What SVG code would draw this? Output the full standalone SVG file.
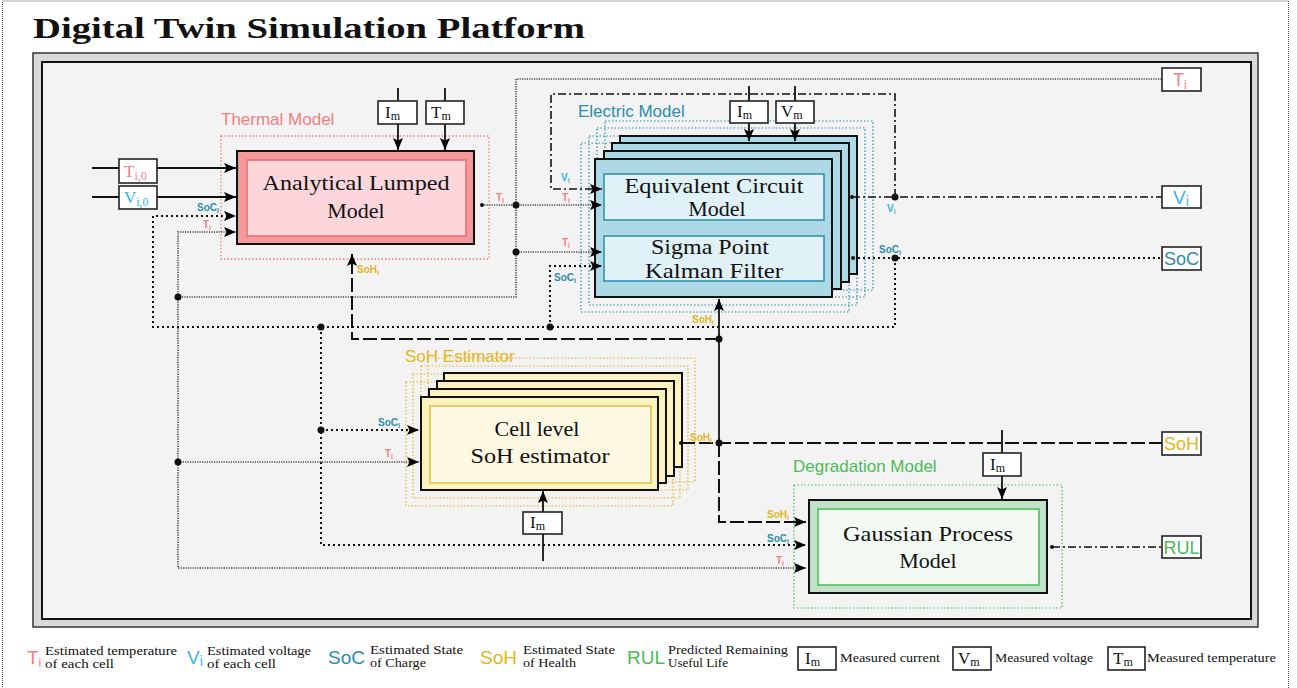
<svg xmlns="http://www.w3.org/2000/svg" width="1297" height="688" viewBox="0 0 1297 688">
<defs>
<marker id="ar" viewBox="0 0 12 10" refX="12" refY="5" markerWidth="12" markerHeight="10" orient="auto" markerUnits="userSpaceOnUse"><path d="M0,0 L12,5 L0,10 L2.5,5 z" fill="#000"/></marker>
<style>
.ser{font-family:"Liberation Serif","DejaVu Serif",serif;fill:#111}
.san{font-family:"Liberation Sans","DejaVu Sans",sans-serif}
.lb{font-family:"Liberation Sans","DejaVu Sans",sans-serif;font-weight:bold;font-size:10px}
.sub{font-size:7px}
.ct{fill:#f07f7f}.cv{fill:#3ab6e3}.cs{fill:#2b8dab}.ch{fill:#e3b51f}.cr{fill:#4bbb58}
.box{fill:#fff;stroke:#222;stroke-width:1.6}
.ti{fill:none;stroke:#444;stroke-width:1.6;stroke-dasharray:1.2 1.2}
.vi{fill:none;stroke:#111;stroke-width:1.6;stroke-dasharray:8 3 2 3}
.so{fill:none;stroke:#111;stroke-width:2;stroke-dasharray:2 3}
.sh{fill:none;stroke:#111;stroke-width:2;stroke-dasharray:14 4}
.sol{fill:none;stroke:#111;stroke-width:1.8}
.mod{font-family:"Liberation Sans","DejaVu Sans",sans-serif;font-size:17px}
.bt{font-family:"Liberation Serif","DejaVu Serif",serif;font-size:22px;fill:#111;text-anchor:middle}
.lg{font-family:"Liberation Serif","DejaVu Serif",serif;font-size:12px;fill:#111}
.big{font-family:"Liberation Sans","DejaVu Sans",sans-serif;font-size:19px}
</style>
</defs>
<rect x="2.5" y="1" width="1286" height="700" fill="#fff" stroke="#555" stroke-width="1" stroke-dasharray="1 1"/>
<text x="33" y="38" class="ser" font-size="30" font-weight="bold" textLength="552" lengthAdjust="spacingAndGlyphs">Digital Twin Simulation Platform</text>
<rect x="33" y="53" width="1225" height="574" fill="#d9d9d9" stroke="#333" stroke-width="1.5"/>
<rect x="42" y="62" width="1209" height="557" fill="#f3f3f3" stroke="#111" stroke-width="2"/>

<g id="thermal">
<rect x="221" y="136" width="268" height="123" fill="none" stroke="#f07f7f" stroke-width="1.3" stroke-dasharray="1.5 2"/>
<text x="221" y="125" class="mod ct">Thermal Model</text>
<rect x="237" y="151" width="237" height="93" fill="#f59a9c" stroke="#111" stroke-width="2"/>
<rect x="247" y="160" width="219" height="76" fill="#fcd6db" stroke="#f06b6b" stroke-width="1.5"/>
<text x="356" y="190" class="bt" textLength="187" lengthAdjust="spacingAndGlyphs">Analytical Lumped</text>
<text x="356" y="218" class="bt">Model</text>
</g>

<g id="electric">
<rect x="605" y="121" width="268" height="169" fill="none" stroke="#2b8dab" stroke-width="1.2" stroke-dasharray="1.5 2"/>
<rect x="597" y="128" width="268" height="169" fill="none" stroke="#2b8dab" stroke-width="1.2" stroke-dasharray="1.5 2"/>
<rect x="589" y="136" width="268" height="169" fill="none" stroke="#2b8dab" stroke-width="1.2" stroke-dasharray="1.5 2"/>
<rect x="581" y="143" width="268" height="169" fill="none" stroke="#2b8dab" stroke-width="1.2" stroke-dasharray="1.5 2"/>
<text x="578" y="117" class="mod cs">Electric Model</text>
<rect x="620" y="136" width="237" height="138" fill="#add8e6" stroke="#111" stroke-width="2"/>
<rect x="612" y="143" width="237" height="139" fill="#add8e6" stroke="#111" stroke-width="2"/>
<rect x="604" y="151" width="237" height="138" fill="#add8e6" stroke="#111" stroke-width="2"/>
<rect x="595" y="159" width="237" height="138" fill="#add8e6" stroke="#111" stroke-width="2"/>
<rect x="604" y="174" width="220" height="46" fill="#e0f2f7" stroke="#2b8dab" stroke-width="1.5"/>
<rect x="604" y="236" width="220" height="45" fill="#e0f2f7" stroke="#2b8dab" stroke-width="1.5"/>
<text x="714" y="193" class="bt" textLength="179" lengthAdjust="spacingAndGlyphs">Equivalent Circuit</text>
<text x="717" y="216" class="bt">Model</text>
<text x="710" y="254" class="bt" textLength="118" lengthAdjust="spacingAndGlyphs">Sigma Point</text>
<text x="714" y="278" class="bt" textLength="138" lengthAdjust="spacingAndGlyphs">Kalman Filter</text>
</g>

<g id="soh-estimator">
<rect x="428" y="358" width="267" height="124" fill="none" stroke="#e3b51f" stroke-width="1.2" stroke-dasharray="1.5 2"/>
<rect x="421" y="366" width="267" height="124" fill="none" stroke="#e3b51f" stroke-width="1.2" stroke-dasharray="1.5 2"/>
<rect x="413" y="374" width="267" height="124" fill="none" stroke="#e3b51f" stroke-width="1.2" stroke-dasharray="1.5 2"/>
<rect x="406" y="382" width="267" height="124" fill="none" stroke="#e3b51f" stroke-width="1.2" stroke-dasharray="1.5 2"/>
<text x="405" y="362" class="mod ch">SoH Estimator</text>
<rect x="444" y="373" width="238" height="94" fill="#fdf3c0" stroke="#111" stroke-width="2"/>
<rect x="437" y="381" width="237" height="95" fill="#fdf3c0" stroke="#111" stroke-width="2"/>
<rect x="429" y="389" width="237" height="94" fill="#fdf3c0" stroke="#111" stroke-width="2"/>
<rect x="421" y="397" width="237" height="93" fill="#fdf3c0" stroke="#111" stroke-width="2"/>
<rect x="430" y="406" width="221" height="77" fill="#fdf8e2" stroke="#e6c040" stroke-width="1.5"/>
<text x="537" y="436" class="bt">Cell level</text>
<text x="540" y="463" class="bt" textLength="139" lengthAdjust="spacingAndGlyphs">SoH estimator</text>
</g>

<g id="degradation">
<rect x="794" y="485" width="268" height="123" fill="none" stroke="#4bbb58" stroke-width="1.2" stroke-dasharray="1.5 2"/>
<text x="793" y="472" class="mod cr">Degradation Model</text>
<rect x="809" y="500" width="238" height="93" fill="#c2e3c8" stroke="#111" stroke-width="2"/>
<rect x="818" y="509" width="221" height="76" fill="#f3faf4" stroke="#4bbb58" stroke-width="1.5"/>
<text x="928" y="541" class="bt" textLength="170" lengthAdjust="spacingAndGlyphs">Gaussian Process</text>
<text x="928" y="568" class="bt">Model</text>
</g>

<g id="connectors">
<path class="ti" d="M482,205 H602" marker-end="url(#ar)"/>
<path class="ti" d="M516,205 V79 H1162"/>
<path class="ti" d="M516,205 V297 H178"/>
<path class="ti" d="M516,252 H602" marker-end="url(#ar)"/>
<path class="ti" d="M178,297 V232 H236" marker-end="url(#ar)"/>
<path class="ti" d="M178,297 V568 H806" marker-end="url(#ar)"/>
<path class="ti" d="M178,462 H419" marker-end="url(#ar)"/>
<path class="vi" d="M852,197 H1162"/>
<path class="vi" d="M895,197 V94 H551 V189 H602" marker-end="url(#ar)"/>
<path class="so" d="M853,258 H1162"/>
<path class="so" d="M895,258 V327 H153 V216 H236" marker-end="url(#ar)"/>
<path class="so" d="M550,327 V266 H602" marker-end="url(#ar)"/>
<path class="so" d="M321,327 V545 H806" marker-end="url(#ar)"/>
<path class="so" d="M321,430 H419" marker-end="url(#ar)"/>
<path class="sh" d="M681,443 H1162"/>
<path class="sol" d="M719,443 V299" marker-end="url(#ar)"/>
<path class="sh" d="M719,339 H352 V254" marker-end="url(#ar)"/>
<path class="sh" d="M719,443 V522 H806" marker-end="url(#ar)"/>
<path class="vi" d="M1052,547 H1162"/>
<path class="sol" d="M92,168 H236" marker-end="url(#ar)"/>
<path class="sol" d="M92,197 H236" marker-end="url(#ar)"/>
<path class="sol" d="M398,88 V101 M445,88 V101 M749,86 V101 M795,86 V101 M1002,430 V453 M543,561 V534"/>
<path class="sol" d="M398,124 V150" marker-end="url(#ar)"/>
<path class="sol" d="M445,124 V150" marker-end="url(#ar)"/>
<path class="sol" d="M749,123 V141" marker-end="url(#ar)"/>
<path class="sol" d="M795,123 V141" marker-end="url(#ar)"/>
<path class="sol" d="M1002,476 V499" marker-end="url(#ar)"/>
<path class="sol" d="M543,512 V491" marker-end="url(#ar)"/>
<g fill="#111">
<circle cx="516" cy="205" r="3.5"/><circle cx="516" cy="252" r="3.5"/><circle cx="178" cy="297" r="3.5"/><circle cx="178" cy="462" r="3.5"/>
<circle cx="895" cy="197" r="3.5"/><circle cx="895" cy="258" r="3.5"/><circle cx="550" cy="327" r="3.5"/><circle cx="321" cy="327" r="3.5"/>
<circle cx="321" cy="430" r="3.5"/><circle cx="719" cy="443" r="3.5"/><circle cx="719" cy="339" r="3.5"/>
<circle cx="482" cy="205" r="2"/><circle cx="852" cy="197" r="2"/><circle cx="853" cy="258" r="2"/><circle cx="681" cy="443" r="2"/><circle cx="1052" cy="547" r="2"/>
</g>
<text x="197" y="211" class="lb cs">SoC<tspan class="sub" dy="2">i</tspan></text>
<text x="203" y="228" class="lb ct">T<tspan class="sub" dy="2">i</tspan></text>
<text x="496" y="201" class="lb ct">T<tspan class="sub" dy="2">i</tspan></text>
<text x="561" y="181" class="lb cv">V<tspan class="sub" dy="2">i</tspan></text>
<text x="562" y="201" class="lb ct">T<tspan class="sub" dy="2">i</tspan></text>
<text x="562" y="246" class="lb ct">T<tspan class="sub" dy="2">i</tspan></text>
<text x="554" y="281" class="lb cs">SoC<tspan class="sub" dy="2">i</tspan></text>
<text x="887" y="212" class="lb cv">V<tspan class="sub" dy="2">i</tspan></text>
<text x="879" y="253" class="lb cs">SoC<tspan class="sub" dy="2">i</tspan></text>
<text x="357" y="273" class="lb ch">SoH<tspan class="sub" dy="2">i</tspan></text>
<text x="692" y="323" class="lb ch">SoH<tspan class="sub" dy="2">i</tspan></text>
<text x="378" y="426" class="lb cs">SoC<tspan class="sub" dy="2">i</tspan></text>
<text x="385" y="457" class="lb ct">T<tspan class="sub" dy="2">i</tspan></text>
<text x="690" y="441" class="lb ch">SoH<tspan class="sub" dy="2">i</tspan></text>
<text x="767" y="518" class="lb ch">SoH<tspan class="sub" dy="2">i</tspan></text>
<text x="767" y="542" class="lb cs">SoC<tspan class="sub" dy="2">i</tspan></text>
<text x="776" y="564" class="lb ct">T<tspan class="sub" dy="2">i</tspan></text>
</g>

<g id="inputs">
<rect x="119" y="159" width="38" height="24" class="box"/>
<text x="124" y="177" class="ser ct" font-size="17">T<tspan font-size="12" dy="3">i,0</tspan></text>
<rect x="119" y="186" width="38" height="23" class="box"/>
<text x="124" y="203" class="ser cv" font-size="17">V<tspan font-size="12" dy="3">i,0</tspan></text>
<rect x="378" y="101" width="39" height="23" class="box"/>
<text x="385" y="118" class="ser" font-size="17">I<tspan font-size="12" dy="2">m</tspan></text>
<rect x="426" y="101" width="38" height="23" class="box"/>
<text x="431" y="118" class="ser" font-size="17">T<tspan font-size="12" dy="2">m</tspan></text>
<rect x="730" y="101" width="38" height="22" class="box"/>
<text x="737" y="117" class="ser" font-size="17">I<tspan font-size="12" dy="2">m</tspan></text>
<rect x="776" y="101" width="38" height="22" class="box"/>
<text x="781" y="117" class="ser" font-size="17">V<tspan font-size="12" dy="2">m</tspan></text>
<rect x="983" y="453" width="38" height="23" class="box"/>
<text x="990" y="470" class="ser" font-size="17">I<tspan font-size="12" dy="2">m</tspan></text>
<rect x="523" y="512" width="39" height="22" class="box"/>
<text x="530" y="528" class="ser" font-size="17">I<tspan font-size="12" dy="2">m</tspan></text>
</g>

<g id="outputs">
<rect x="1162" y="68" width="39" height="23" class="box"/>
<text x="1173" y="86" class="san ct" font-size="18">T<tspan font-size="12" dy="3">i</tspan></text>
<rect x="1162" y="186" width="39" height="22" class="box"/>
<text x="1173" y="204" class="san cv" font-size="19">V<tspan font-size="14" dy="2">i</tspan></text>
<rect x="1162" y="247" width="39" height="23" class="box"/>
<text x="1181.5" y="265" class="san cs" font-size="18" text-anchor="middle">SoC</text>
<rect x="1162" y="432" width="39" height="23" class="box"/>
<text x="1181.5" y="450" class="san ch" font-size="18" text-anchor="middle">SoH</text>
<rect x="1162" y="536" width="39" height="22" class="box"/>
<text x="1181.5" y="554" class="san cr" font-size="18" text-anchor="middle">RUL</text>
</g>

<g id="legend">
<text x="27" y="664" class="big ct">T<tspan font-size="12" dy="3">i</tspan></text>
<text x="45" y="655" class="lg" textLength="132" lengthAdjust="spacingAndGlyphs">Estimated temperature</text>
<text x="45" y="668" class="lg" textLength="69" lengthAdjust="spacingAndGlyphs">of each cell</text>
<text x="187" y="664" class="big cv">V<tspan font-size="14" dy="2">i</tspan></text>
<text x="207" y="655" class="lg" textLength="104" lengthAdjust="spacingAndGlyphs">Estimated voltage</text>
<text x="207" y="668" class="lg" textLength="69" lengthAdjust="spacingAndGlyphs">of each cell</text>
<text x="328" y="664" class="big cs">SoC</text>
<text x="370" y="654" class="lg" textLength="93" lengthAdjust="spacingAndGlyphs">Estimated State</text>
<text x="370" y="667" class="lg" textLength="56" lengthAdjust="spacingAndGlyphs">of Charge</text>
<text x="480" y="664" class="big ch">SoH</text>
<text x="523" y="654" class="lg" textLength="92" lengthAdjust="spacingAndGlyphs">Estimated State</text>
<text x="523" y="667" class="lg" textLength="53" lengthAdjust="spacingAndGlyphs">of Health</text>
<text x="627" y="664" class="big cr">RUL</text>
<text x="668" y="654" class="lg" textLength="120" lengthAdjust="spacingAndGlyphs">Predicted Remaining</text>
<text x="668" y="667" class="lg" textLength="60" lengthAdjust="spacingAndGlyphs">Useful Life</text>
<rect x="798" y="647" width="38" height="23" class="box"/>
<text x="805" y="664" class="ser" font-size="17">I<tspan font-size="12" dy="2">m</tspan></text>
<text x="840" y="662" class="lg" textLength="100" lengthAdjust="spacingAndGlyphs">Measured current</text>
<rect x="953" y="647" width="38" height="23" class="box"/>
<text x="958" y="664" class="ser" font-size="17">V<tspan font-size="12" dy="2">m</tspan></text>
<text x="995" y="662" class="lg" textLength="98" lengthAdjust="spacingAndGlyphs">Measured voltage</text>
<rect x="1108" y="647" width="37" height="23" class="box"/>
<text x="1113" y="664" class="ser" font-size="17">T<tspan font-size="12" dy="2">m</tspan></text>
<text x="1147" y="662" class="lg" textLength="129" lengthAdjust="spacingAndGlyphs">Measured temperature</text>
</g>
</svg>
